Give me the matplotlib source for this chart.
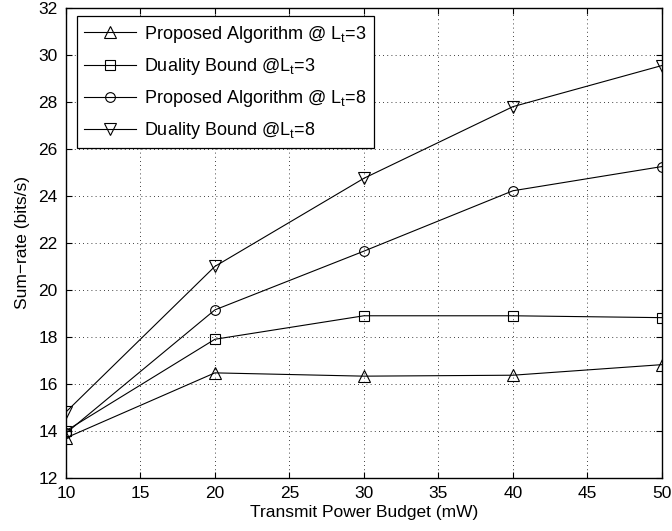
import matplotlib.pyplot as plt

plt.rcParams["font.family"] = ["Liberation Sans", "DejaVu Sans"]
plt.rcParams["mathtext.fontset"] = "custom"
plt.rcParams["mathtext.rm"] = "Liberation Sans"
plt.rcParams["mathtext.it"] = "Liberation Sans"

# data
power = [10, 20, 30, 40, 50]
prop_l3 = [13.7, 16.47, 16.33, 16.37, 16.82]
dual_l3 = [14.0, 17.9, 18.9, 18.9, 18.82]
prop_l8 = [13.9, 19.15, 21.65, 24.22, 25.25]
dual_l8 = [14.8, 21.0, 24.75, 27.8, 29.55]

series = [
    (prop_l3, "^", "Proposed Algorithm @ L$_\\mathrm{t}$=3"),
    (dual_l3, "s", "Duality Bound @L$_\\mathrm{t}$=3"),
    (prop_l8, "o", "Proposed Algorithm @ L$_\\mathrm{t}$=8"),
    (dual_l8, "v", "Duality Bound @L$_\\mathrm{t}$=8"),
]

fig = plt.figure(figsize=(6.72, 5.31), dpi=100)
ax = fig.add_axes([0.098, 0.1, 0.887, 0.885])

for vals, mk, lab in series:
    ax.plot(power, vals, color="black", linewidth=0.8, marker=mk,
            markersize=8 if mk in "^v" else 7, markerfacecolor="none",
            markeredgecolor="black", markeredgewidth=0.8, label=lab)

ax.set_xlim(10, 50)
ax.set_ylim(12, 32)
ax.set_xticks(range(10, 51, 5))
ax.set_yticks(range(12, 33, 2))
ax.grid(True, linestyle=(0, (1, 4)), color="black", linewidth=0.6)
ax.tick_params(direction="in", top=True, right=True, length=4, labelsize=12.5,
               pad=6)
for sp in ax.spines.values():
    sp.set_linewidth(1.0)

ax.set_xlabel("Transmit Power Budget (mW)", fontsize=12.5, labelpad=3)
ax.set_ylabel("Sum\u2212rate (bits/s)", fontsize=12.5, labelpad=6)

leg = ax.legend(loc="upper left", bbox_to_anchor=(0.018, 0.982), fontsize=13,
                handlelength=2.9, handletextpad=0.45, labelspacing=0.62,
                borderpad=0.4, borderaxespad=0, fancybox=False, framealpha=1,
                edgecolor="black")
leg.get_frame().set_linewidth(0.9)

fig.savefig("out.png", dpi=100)
